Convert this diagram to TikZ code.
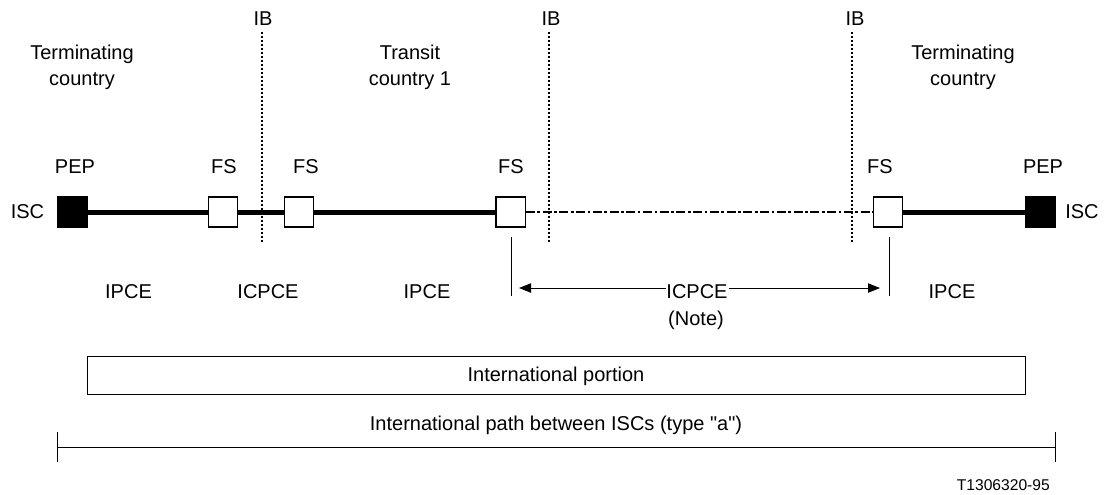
\documentclass[tikz,border=0pt]{standalone}
\usepackage{fontspec}
\setmainfont{Liberation Sans}
\newfontfamily\rawsans{Liberation Sans}
\usetikzlibrary{arrows.meta}
\begin{document}
\begin{tikzpicture}[x=0.75pt,y=-0.75pt,
  txt/.style={inner sep=0pt,font=\rawsans\fontsize{15}{19.5}\selectfont,align=center},
  bl/.style={txt,anchor=base},
  pep/.style={draw,fill=black,minimum width=22.5pt,minimum height=22.5pt,inner sep=0pt,line width=1pt},
  fsbox/.style={draw,fill=white,minimum width=22pt,minimum height=22.5pt,inner sep=0pt,line width=1pt},
  ibline/.style={line width=2pt,dash pattern=on 1.5pt off 1.5pt},
  heavyline/.style={line width=3.75pt},
  dashdotline/.style={line width=2.2pt,dash pattern=on 6.75pt off 1.9pt on 2pt off 1.9pt},
  thinline/.style={line width=0.75pt}]
\useasboundingbox (0,0) rectangle (1106,494);
% IB lines
\coordinate (ib1t) at (262,32); \coordinate (ib1b) at (262,243);
\coordinate (ib2t) at (549,32); \coordinate (ib2b) at (549,243);
\coordinate (ib3t) at (852,32); \coordinate (ib3b) at (852,243);
\draw[ibline] (ib1t) -- (ib1b);
\draw[ibline] (ib2t) -- (ib2b);
\draw[ibline] (ib3t) -- (ib3b);
\node[bl] (ibl1) at (263,25) {IB};
\node[bl] (ibl2) at (551,25) {IB};
\node[bl] (ibl3) at (855,25) {IB};
% country labels
\node[txt] (tc1) at (82,67) {Terminating\\country};
\node[txt] (tr1) at (410,67) {Transit\\country 1};
\node[txt] (tc2) at (963,67) {Terminating\\country};
% nodes
\node[pep] (p1) at (72.5,212) {};
\node[fsbox] (f1) at (223,212) {};
\node[fsbox] (f2) at (299,212) {};
\node[fsbox] (f3) at (510.5,212) {};
\node[fsbox] (f4) at (888,212) {};
\node[pep] (p2) at (1040.5,212) {};
\draw[heavyline] (p1.east) -- (f1.west);
\draw[heavyline] (f1.east) -- (f2.west);
\draw[heavyline] (f2.east) -- (f3.west);
\draw[dashdotline] (f3.east) -- (f4.west);
\draw[heavyline] (f4.east) -- (p2.west);
\node[bl] (isc1) at (27.5,218) {ISC};
\node[bl] (isc2) at (1082,218) {ISC};
\node[bl] (pepl1) at (75,173) {PEP};
\node[bl] (pepl2) at (1043,173) {PEP};
\node[bl] (fs1) at (224,173) {FS};
\node[bl] (fs2) at (306,173) {FS};
\node[bl] (fs3) at (511,173) {FS};
\node[bl] (fs4) at (880,173) {FS};
% ICPCE dimension
\coordinate (v1t) at (511,237); \coordinate (v1b) at (511,296);
\coordinate (v2t) at (889,237); \coordinate (v2b) at (889,296);
\draw[thinline] (v1t) -- (v1b);
\draw[thinline] (v2t) -- (v2b);
\node[bl,fill=white,inner xsep=0.5pt] (icpce2) at (697,298) {ICPCE};
\coordinate (a1) at (519,288); \coordinate (a2) at (880,288);
\draw[thinline,-{Triangle[length=9pt,width=7pt]}] (icpce2.west |- a1) -- (a1);
\draw[thinline,-{Triangle[length=9pt,width=7pt]}] (icpce2.east |- a2) -- (a2);
\node[bl] (note) at (696,325) {(Note)};
\node[bl] (ipce1) at (128.5,298) {IPCE};
\node[bl] (icpce1) at (268,298) {ICPCE};
\node[bl] (ipce2) at (427,298) {IPCE};
\node[bl] (ipce3) at (952,298) {IPCE};
% International portion
\node[draw,thinline,minimum width=704pt,minimum height=28.5pt,inner sep=0pt] (ip) at (556.5,375) {};
\node[bl] (iptext) at (556,381) {International portion};
% path
\node[bl] (path) at (556,430) {International path between ISCs (type "a")};
\coordinate (l1) at (57,447); \coordinate (l2) at (1055,447);
\coordinate (l1t) at (57,432); \coordinate (l1b) at (57,462);
\coordinate (l2t) at (1055,432); \coordinate (l2b) at (1055,462);
\draw[thinline] (l1) -- (l2);
\draw[thinline] (l1t) -- (l1b);
\draw[thinline] (l2t) -- (l2b);
\node[bl,anchor=base east,font=\rawsans\fontsize{11.7}{14}\selectfont] (tag) at (1050,490) {T1306320-95};
\end{tikzpicture}
\end{document}
